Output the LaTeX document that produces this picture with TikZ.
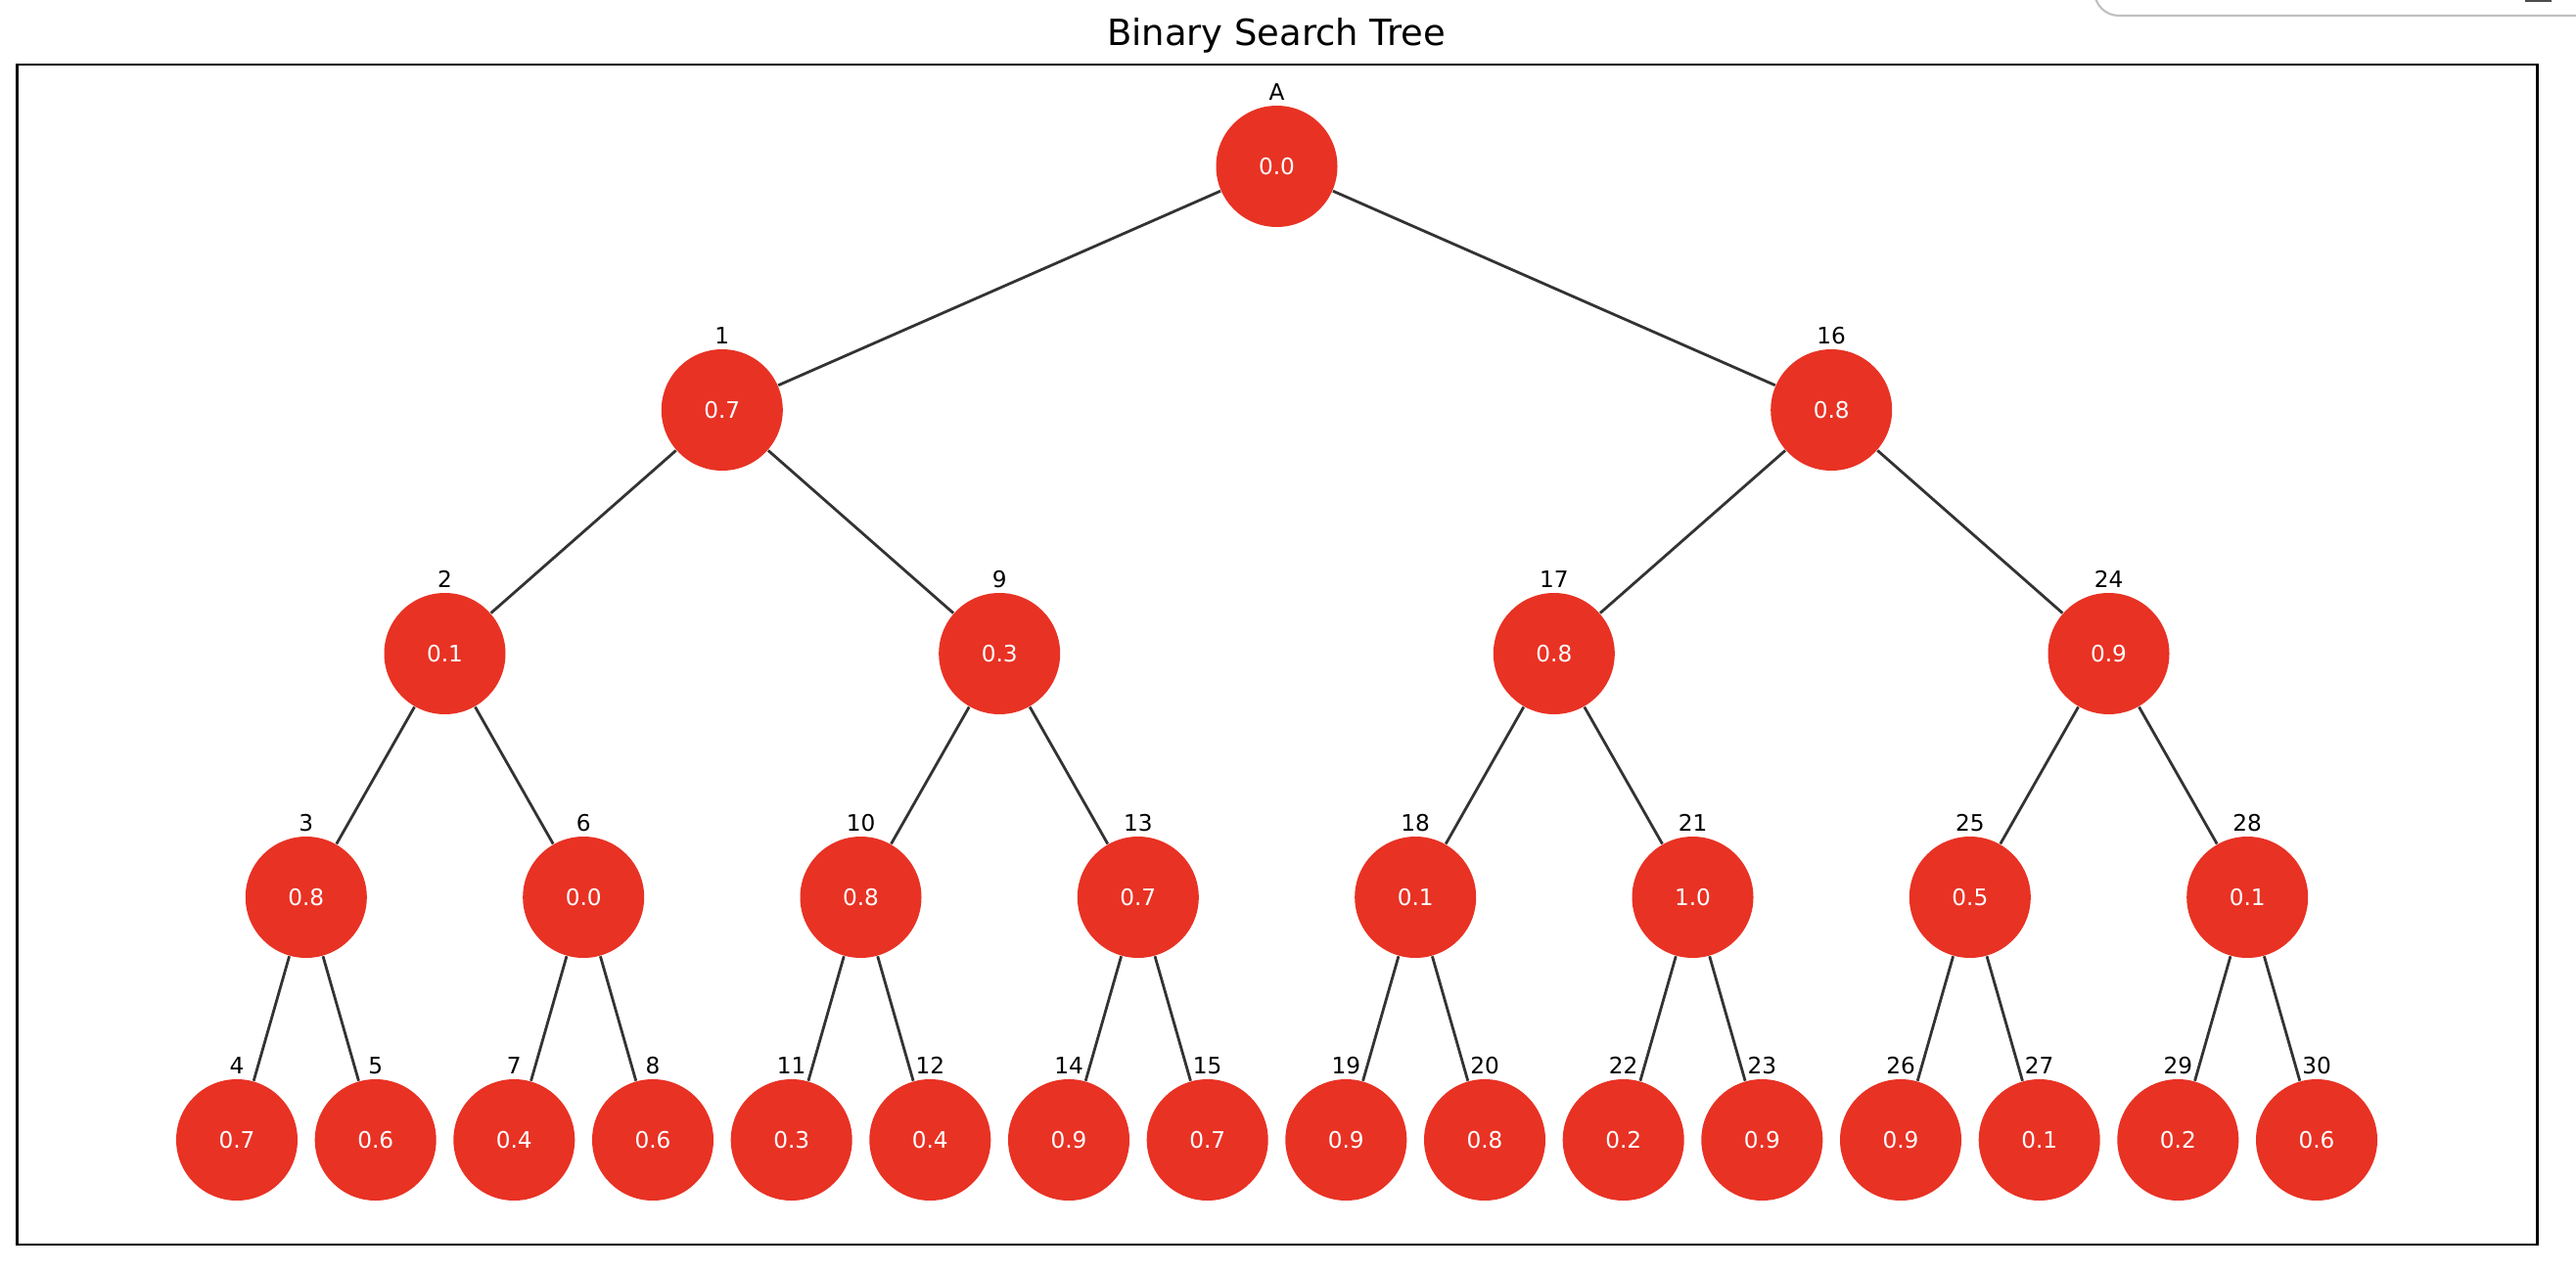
\documentclass[tikz,border=0pt]{standalone}
\usepackage{fontspec}
\setmainfont{DejaVu Sans}
\definecolor{nodered}{RGB}{232,50,36}
\tikzset{
	treenode/.style={circle,fill=nodered,draw=none,minimum size=1.24cm,inner sep=0pt,
		text=white,font=\fontsize{6.6pt}{7pt}\selectfont},
	idlabel/.style={inner sep=0pt,text=black,font=\fontsize{6.6pt}{7pt}\selectfont},
	edge/.style={draw=black!80,line width=0.8pt}
}
\begin{document}
\begin{tikzpicture}
	\useasboundingbox (0,0) rectangle (26.32,12.98);
	%标题和边框
	\node[anchor=base,font=\fontsize{10.5pt}{12pt}\selectfont] (title) at (13.04,12.51) {Binary Search Tree};
	\draw[line width=0.6pt] (0.175,0.263) rectangle (25.925,12.32);
	\draw[black!25,line width=0.6pt,rounded corners=0.25cm] (21.40,13.2) -- (21.40,12.82) -- (26.6,12.82);
	\draw[black!70,line width=0.6pt] (25.80,12.975) -- (26.07,12.975);
	%节点
	\node[treenode,label={[idlabel,label distance=0.04cm]above:A}] (n0) at (13.045,11.28) {0.0};
	\foreach \id/\x/\v in {1/7.378/0.7,16/18.712/0.8}
		\node[treenode,label={[idlabel,label distance=0.04cm]above:\id}] (n\id) at (\x,8.79) {\v};
	\foreach \id/\x/\v in {2/4.545/0.1,9/10.212/0.3,17/15.878/0.8,24/21.545/0.9}
		\node[treenode,label={[idlabel,label distance=0.04cm]above:\id}] (n\id) at (\x,6.30) {\v};
	\foreach \id/\x/\v in {3/3.128/0.8,6/5.962/0.0,10/8.795/0.8,13/11.628/0.7,
		18/14.462/0.1,21/17.295/1.0,25/20.128/0.5,28/22.962/0.1}
		\node[treenode,label={[idlabel,label distance=0.04cm]above:\id}] (n\id) at (\x,3.81) {\v};
	\foreach \id/\x/\v in {4/2.42/0.7,5/3.837/0.6,7/5.253/0.4,8/6.67/0.6,
		11/8.087/0.3,12/9.503/0.4,14/10.92/0.9,15/12.337/0.7,
		19/13.753/0.9,20/15.17/0.8,22/16.587/0.2,23/18.003/0.9,
		26/19.42/0.9,27/20.837/0.1,29/22.253/0.2,30/23.67/0.6}
		\node[treenode,label={[idlabel,label distance=0.04cm]above:\id}] (n\id) at (\x,1.33) {\v};
	%连线
	\foreach \a/\b in {0/1,0/16,1/2,1/9,16/17,16/24,
		2/3,2/6,9/10,9/13,17/18,17/21,24/25,24/28,
		3/4,3/5,6/7,6/8,10/11,10/12,13/14,13/15,
		18/19,18/20,21/22,21/23,25/26,25/27,28/29,28/30}
		\draw[edge] (n\a) -- (n\b);
\end{tikzpicture}
\end{document}
